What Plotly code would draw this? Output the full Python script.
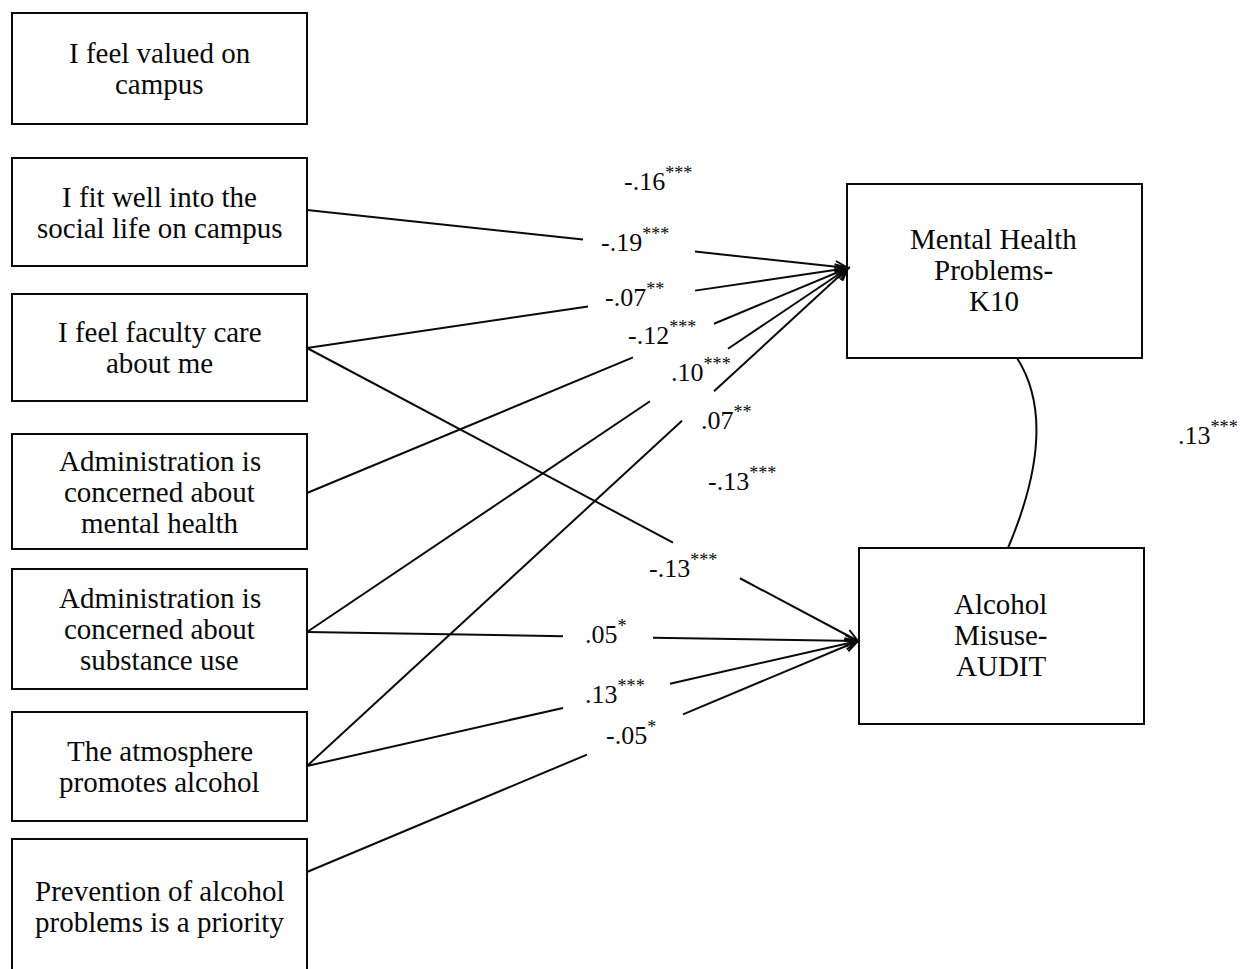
import math
import plotly.graph_objects as go

# ---------------- data ----------------
indicator_labels = [
    "I feel valued on|campus",
    "I fit well into the|social life on campus",
    "I feel faculty care|about me",
    "Administration is|concerned about|mental health",
    "Administration is|concerned about|substance use",
    "The atmosphere|promotes alcohol",
    "Prevention of alcohol|problems is a priority",
]
outcome_labels = ["Mental Health|Problems-|K10", "Alcohol|Misuse-|AUDIT"]

path_from = [1, 2, 3, 4, 5, 2, 4, 5, 6]
path_to = [0, 0, 0, 0, 0, 1, 1, 1, 1]
path_coef = ["-.19", "-.07", "-.12", ".10", ".07", "-.13", ".05", ".13", "-.05"]
path_sig = ["***", "**", "***", "***", "**", "***", "*", "***", "*"]

extra_coef = ["-.16", "-.13"]
extra_sig = ["***", "***"]
cov_coef = ".13"
cov_sig = "***"

# ---------------- layout geometry (pixels) ----------------
W, H = 1240, 969
ind_x = (12, 307)
ind_y = [(13, 124), (158, 266), (294, 401), (434, 549), (569, 689), (712, 821), (839, 985)]
ind_anchor_y = [68, 210, 348, 493, 632, 766, 872]
out_box = [(847, 1142, 184, 358), (859, 1144, 548, 724)]
out_tip = [(848, 268), (858, 641)]
path_gap = [(583, 695), (588, 695), (633, 714), (650, 728), (682, 714),
            (673, 740), (563, 653), (563, 670), (587, 683)]
path_lab = [(599, 240), (603, 295), (626, 333), (669, 370), (699, 418),
            (647, 566), (583, 632), (583, 692), (604, 733)]
extra_lab = [(622, 179), (706, 479)]
cov_lab = (1176, 433)

FONT = "Liberation Serif"
BOX_FS = 29
LAB_FS = 26
LINE_H = 31
INK = "#0a0a0a"

fig = go.Figure()
shapes = []
annotations = []


def box(x0, x1, y0, y1):
    shapes.append(dict(type="rect", xref="x", yref="y", x0=x0, x1=x1, y0=y0, y1=y1,
                       line=dict(color=INK, width=2), fillcolor="rgba(0,0,0,0)"))


def box_text(text, cx, cy):
    lines = text.split("|")
    n = len(lines)
    for i, ln in enumerate(lines):
        y = cy + (i - (n - 1) / 2) * LINE_H
        annotations.append(dict(x=cx, y=y, xref="x", yref="y", text=ln, showarrow=False,
                                xanchor="center", yanchor="middle",
                                font=dict(family=FONT, size=BOX_FS, color=INK)))


def coef_label(coef, sig, x, y):
    annotations.append(dict(x=x, y=y, xref="x", yref="y",
                            text=f"{coef}<sup>{sig}</sup>", showarrow=False,
                            xanchor="left", yanchor="middle",
                            font=dict(family=FONT, size=LAB_FS, color=INK)))


def seg(xa, ya, xb, yb):
    shapes.append(dict(type="line", xref="x", yref="y", x0=xa, y0=ya, x1=xb, y1=yb,
                       line=dict(color=INK, width=2)))


# indicator boxes
for i, lab in enumerate(indicator_labels):
    y0, y1 = ind_y[i]
    box(ind_x[0], ind_x[1], y0, y1)
    cy = (y0 + y1) / 2 if i < 6 else 906
    box_text(lab, (ind_x[0] + ind_x[1]) / 2, cy)

# outcome boxes
for j, lab in enumerate(outcome_labels):
    x0, x1, y0, y1 = out_box[j]
    box(x0, x1, y0, y1)
    box_text(lab, (x0 + x1) / 2 - 1, (y0 + y1) / 2 - 1)

# paths
ARM = 14
ANG = math.radians(24)
for k in range(len(path_from)):
    sx, sy = ind_x[1], ind_anchor_y[path_from[k]]
    tx, ty = out_tip[path_to[k]]
    g0, g1 = path_gap[k]

    def yat(x):
        return sy + (ty - sy) * (x - sx) / (tx - sx)

    seg(sx, sy, g0, yat(g0))
    seg(g1, yat(g1), tx, ty)
    # open arrowhead
    dx, dy = tx - sx, ty - sy
    L = math.hypot(dx, dy)
    ux, uy = dx / L, dy / L
    pts = []
    for s in (1, -1):
        c, sn = math.cos(s * ANG), math.sin(s * ANG)
        rx, ry = ux * c - uy * sn, ux * sn + uy * c
        pts.append((tx - ARM * rx, ty - ARM * ry))
    shapes.append(dict(type="path", xref="x", yref="y",
                       path=f"M {pts[0][0]:.1f} {pts[0][1]:.1f} L {tx} {ty} L {pts[1][0]:.1f} {pts[1][1]:.1f}",
                       line=dict(color=INK, width=2)))
    coef_label(path_coef[k], path_sig[k], *path_lab[k])

for c, s, (x, y) in zip(extra_coef, extra_sig, extra_lab):
    coef_label(c, s, x, y)

# covariance curve between outcomes
shapes.append(dict(type="path", xref="x", yref="y",
                   path="M 1017 358 Q 1060 425 1008 548",
                   line=dict(color=INK, width=2)))
coef_label(cov_coef, cov_sig, *cov_lab)

fig.update_layout(
    width=W, height=H,
    margin=dict(l=0, r=0, t=0, b=0),
    paper_bgcolor="white", plot_bgcolor="white",
    xaxis=dict(range=[0, W], visible=False, fixedrange=True),
    yaxis=dict(range=[H, 0], visible=False, fixedrange=True),
    shapes=shapes, annotations=annotations,
    showlegend=False,
)

fig.write_html("out.html", config={"displayModeBar": False},
               post_script="document.body.style.margin='0';document.body.style.overflow='hidden';")
